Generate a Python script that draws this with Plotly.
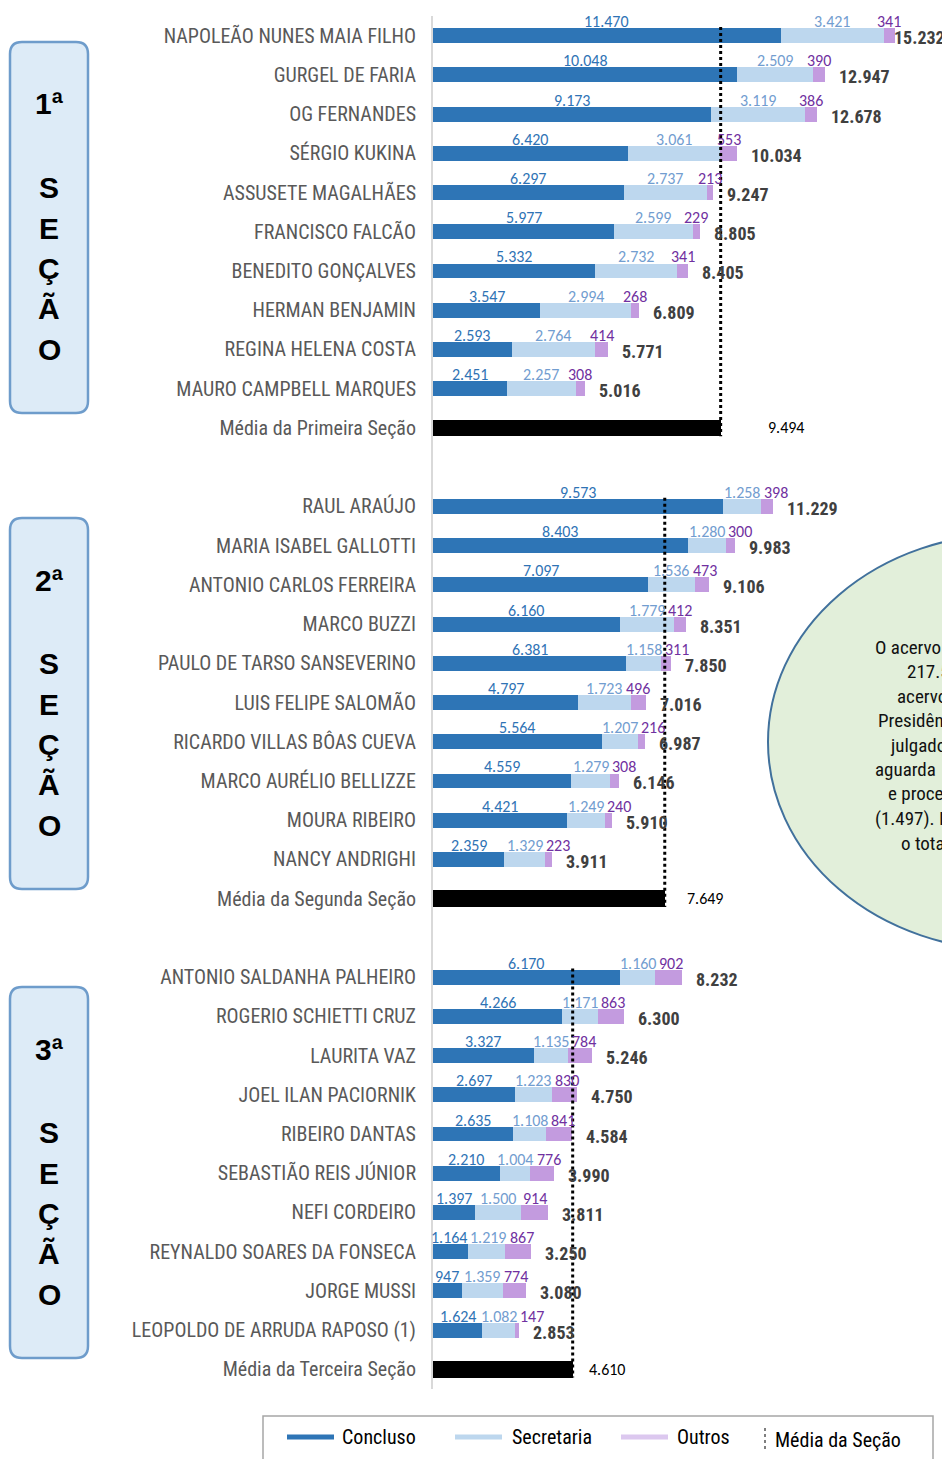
import plotly.graph_objects as go

# ---------------- DATA ----------------
sec1_names = ["NAPOLEÃO NUNES MAIA FILHO", "GURGEL DE FARIA", "OG FERNANDES", "SÉRGIO KUKINA",
              "ASSUSETE MAGALHÃES", "FRANCISCO FALCÃO", "BENEDITO GONÇALVES", "HERMAN BENJAMIN",
              "REGINA HELENA COSTA", "MAURO CAMPBELL MARQUES"]
sec1_concluso = [11470, 10048, 9173, 6420, 6297, 5977, 5332, 3547, 2593, 2451]
sec1_secretaria = [3421, 2509, 3119, 3061, 2737, 2599, 2732, 2994, 2764, 2257]
sec1_outros = [341, 390, 386, 553, 213, 229, 341, 268, 414, 308]

sec2_names = ["RAUL ARAÚJO", "MARIA ISABEL GALLOTTI", "ANTONIO CARLOS FERREIRA", "MARCO BUZZI",
              "PAULO DE TARSO SANSEVERINO", "LUIS FELIPE SALOMÃO", "RICARDO VILLAS BÔAS CUEVA",
              "MARCO AURÉLIO BELLIZZE", "MOURA RIBEIRO", "NANCY ANDRIGHI"]
sec2_concluso = [9573, 8403, 7097, 6160, 6381, 4797, 5564, 4559, 4421, 2359]
sec2_secretaria = [1258, 1280, 1536, 1779, 1158, 1723, 1207, 1279, 1249, 1329]
sec2_outros = [398, 300, 473, 412, 311, 496, 216, 308, 240, 223]

sec3_names = ["ANTONIO SALDANHA PALHEIRO", "ROGERIO SCHIETTI CRUZ", "LAURITA VAZ", "JOEL ILAN PACIORNIK",
              "RIBEIRO DANTAS", "SEBASTIÃO REIS JÚNIOR", "NEFI CORDEIRO", "REYNALDO SOARES DA FONSECA",
              "JORGE MUSSI", "LEOPOLDO DE ARRUDA RAPOSO (1)"]
sec3_concluso = [6170, 4266, 3327, 2697, 2635, 2210, 1397, 1164, 947, 1624]
sec3_secretaria = [1160, 1171, 1135, 1223, 1108, 1004, 1500, 1219, 1359, 1082]
sec3_outros = [902, 863, 784, 830, 841, 776, 914, 867, 774, 147]

mean_labels = ["Média da Primeira Seção", "Média da Segunda Seção", "Média da Terceira Seção"]
mean_values = [9494, 7649, 4610]
section_titles = ["1ª", "2ª", "3ª"]
section_word = ["S", "E", "Ç", "Ã", "O"]
legend_labels = ["Concluso", "Secretaria", "Outros", "Média da Seção"]
note_lines = ["O acervo", "217.5", "acervo", "Presidên", "julgado", "aguarda", "e proces", "(1.497). I", "o tota"]

# ---------------- STYLE / LAYOUT ----------------
PAGE_OFF = 8                      # default body margin of the html page
W, H = 950 - PAGE_OFF, 1459 - PAGE_OFF
L, T = 433 - PAGE_OFF, 16 - PAGE_OFF
R = 0
PLOT_BOTTOM = 1389 - PAGE_OFF
B = H - PLOT_BOTTOM
PW, PH = W - L - R, PLOT_BOTTOM - T
XMAX = PW / 0.0303

C_CONC = "#2E75B6"
C_SEC = "#BDD7EE"
C_OUT = "#C39BDF"
C_CONC_T = "#2F73B5"
C_SEC_T = "#729DD0"
C_OUT_T = "#7030A0"
NARROW = "Liberation Sans Narrow, Arial Narrow, Roboto Condensed, DejaVu Sans Condensed, Roboto, sans-serif"
CAL = "Carlito, Calibri, Lato, sans-serif"
MEAN_LABEL_SHIFT = [45, 20, 14]


def px_x(p):
    """reference-page pixel -> paper x"""
    return (p - PAGE_OFF - L) / PW


def px_y(p):
    """reference-page pixel -> paper y"""
    return (PLOT_BOTTOM - (p - PAGE_OFF)) / PH


def fmt(v):
    return f"{v:,}".replace(",", ".")


def est_w(s):
    return sum(3.6 if ch == "." else 7.6 for ch in s)


sections = [
    (sec1_names, sec1_concluso, sec1_secretaria, sec1_outros),
    (sec2_names, sec2_concluso, sec2_secretaria, sec2_outros),
    (sec3_names, sec3_concluso, sec3_secretaria, sec3_outros),
]

rows, conc, secr, outr = [], [], [], []
tickvals, ticktext = [], []
mean_rows = []
for s, (nm, c, se, o) in enumerate(sections):
    base = 12 * s
    for i in range(len(nm)):
        rows.append(base + i)
        conc.append(c[i]); secr.append(se[i]); outr.append(o[i])
        tickvals.append(base + i); ticktext.append(nm[i])
    mean_rows.append(base + 10)
    tickvals.append(base + 10); ticktext.append(mean_labels[s])

fig = go.Figure()
BW = 0.38
fig.add_trace(go.Bar(y=rows, x=conc, orientation="h", marker=dict(color=C_CONC, line=dict(width=0)),
                     width=BW, name="Concluso", hoverinfo="x+name"))
fig.add_trace(go.Bar(y=rows, x=secr, orientation="h", marker=dict(color=C_SEC, line=dict(width=0)),
                     width=BW, name="Secretaria", hoverinfo="x+name"))
fig.add_trace(go.Bar(y=rows, x=outr, orientation="h", marker=dict(color=C_OUT, line=dict(width=0)),
                     width=BW, name="Outros", hoverinfo="x+name"))
fig.add_trace(go.Bar(y=mean_rows, x=mean_values, orientation="h", marker=dict(color="#000000", line=dict(width=0)),
                     width=0.42, name="Média", hoverinfo="x+name"))

ann = []
shapes = []
ppu = PW / XMAX
GAP = 5
for r, c, se, o in zip(rows, conc, secr, outr):
    texts = [fmt(c), fmt(se), fmt(o)]
    widths = [est_w(t) for t in texts]
    centers = [c / 2 * ppu, (c + se / 2) * ppu, (c + se + o / 2) * ppu]
    shifts = [0.0, 0.0, 0.0]
    # push overlapping labels apart (as the original chart does)
    ov = (centers[0] + widths[0] / 2 + GAP) - (centers[1] - widths[1] / 2)
    if ov > 0:
        shifts[0] -= ov / 2
        shifts[1] += ov / 2
    left_min = widths[0] / 2 - 8
    if centers[0] + shifts[0] < left_min:
        d = left_min - (centers[0] + shifts[0])
        shifts[0] += d
        shifts[1] += d
    ov = (centers[1] + shifts[1] + widths[1] / 2 + GAP) - (centers[2] - widths[2] / 2)
    if ov > 0:
        shifts[2] += ov
    cols = [C_CONC_T, C_SEC_T, C_OUT_T]
    xs = [c / 2, c + se / 2, c + se + o / 2]
    for x, t, sh, col in zip(xs, texts, shifts, cols):
        ann.append(dict(x=x, y=r, text=t, showarrow=False, yshift=14, xshift=sh,
                        font=dict(family=CAL, size=16, color=col)))
    tot = c + se + o
    end_px = L + tot * ppu
    shift = min(12, W - 58 - end_px)
    ann.append(dict(x=tot, y=r, text=f"<b>{fmt(tot)}</b>", showarrow=False, xanchor="left",
                    xshift=shift, yshift=-2, font=dict(family=NARROW, size=18, color="#404040")))

for s in range(3):
    m = mean_values[s]
    mr = mean_rows[s]
    ann.append(dict(x=m, y=mr, text=fmt(m), showarrow=False, xanchor="left", xshift=MEAN_LABEL_SHIFT[s],
                    font=dict(family=CAL, size=16, color="#000000")))
    shapes.append(dict(type="line", xref="x", yref="y", x0=m, x1=m, y0=12 * s - 0.22, y1=mr + 0.21,
                       line=dict(color="#000000", width=3, dash="dot"), layer="above"))

# section boxes on the left
box_tops = [42, 518, 987]
box_h = 371
letter_offsets = [62, 145, 186, 226, 266, 307]
for s in range(3):
    x0, x1 = 10, 88
    y0, y1 = box_tops[s], box_tops[s] + box_h
    rad = 12
    X0, X1 = px_x(x0), px_x(x1)
    Y0, Y1 = px_y(y0), px_y(y1)
    rx = rad / PW
    ry = rad / PH
    path = (f"M {X0 + rx},{Y0} L {X1 - rx},{Y0} Q {X1},{Y0} {X1},{Y0 - ry} "
            f"L {X1},{Y1 + ry} Q {X1},{Y1} {X1 - rx},{Y1} L {X0 + rx},{Y1} "
            f"Q {X0},{Y1} {X0},{Y1 + ry} L {X0},{Y0 - ry} Q {X0},{Y0} {X0 + rx},{Y0} Z")
    shapes.append(dict(type="path", xref="paper", yref="paper", path=path,
                       fillcolor="#DDEBF7", line=dict(color="#6E9CCB", width=2.5), layer="below"))
    texts = [section_titles[s]] + section_word
    for t, off in zip(texts, letter_offsets):
        ann.append(dict(xref="paper", yref="paper", x=px_x(49), y=px_y(y0 + off), text=f"<b>{t}</b>",
                        showarrow=False, xanchor="center", yanchor="middle",
                        font=dict(family="Liberation Sans, Arial, sans-serif", size=30, color="#000000")))

# green note ellipse (cut off at the right edge)
shapes.append(dict(type="circle", xref="paper", yref="paper",
                   x0=px_x(768), x1=px_x(1252), y0=px_y(950), y1=px_y(534),
                   fillcolor="#E2EFDA", line=dict(color="#41719C", width=2), layer="above"))
note_x = [873, 905, 895, 876, 888, 873, 886, 873, 899]
for k, (t, nx) in enumerate(zip(note_lines, note_x)):
    ann.append(dict(xref="paper", yref="paper", x=px_x(nx), y=px_y(647 + 24.5 * k), text=t,
                    showarrow=False, xanchor="left", yanchor="middle",
                    font=dict(family=NARROW, size=19, color="#111111")))

# manual legend
shapes.append(dict(type="rect", xref="paper", yref="paper", x0=px_x(263), x1=px_x(933),
                   y0=px_y(1480), y1=px_y(1416), line=dict(color="#A6A6A6", width=1.5),
                   fillcolor="rgba(0,0,0,0)"))
leg_lines = [(287, 334, C_CONC), (455, 502, C_SEC), (621, 668, "#DCC8EF")]
leg_text_x = [340, 510, 675, 773]
for (a, b, col) in leg_lines:
    shapes.append(dict(type="line", xref="paper", yref="paper", x0=px_x(a), x1=px_x(b),
                       y0=px_y(1437), y1=px_y(1437), line=dict(color=col, width=5)))
shapes.append(dict(type="line", xref="paper", yref="paper", x0=px_x(765), x1=px_x(765),
                   y0=px_y(1428), y1=px_y(1450), line=dict(color="#7F7F7F", width=2, dash="dot")))
for t, lx in zip(legend_labels, leg_text_x):
    ann.append(dict(xref="paper", yref="paper", x=px_x(lx), y=px_y(1437 if t != "Média da Seção" else 1440),
                    text=t, showarrow=False, xanchor="left", yanchor="middle",
                    font=dict(family=NARROW, size=20, color="#000000")))

fig.update_layout(
    width=W, height=H, barmode="stack", showlegend=False, bargap=0,
    paper_bgcolor="#FFFFFF", plot_bgcolor="#FFFFFF",
    margin=dict(l=L, r=R, t=T, b=B, autoexpand=False),
    xaxis=dict(range=[0, XMAX], visible=False, showgrid=False, zeroline=False, fixedrange=True),
    yaxis=dict(range=[34.5, -0.5], tickmode="array", tickvals=tickvals, ticktext=ticktext,
               showgrid=False, zeroline=False, showline=True, linecolor="#D9D9D9", linewidth=2,
               ticks="outside", ticklen=11, tickcolor="rgba(0,0,0,0)",
               tickfont=dict(family=NARROW, size=20, color="#595959"), fixedrange=True),
    annotations=ann, shapes=shapes,
)

fig.write_html("out.html")
